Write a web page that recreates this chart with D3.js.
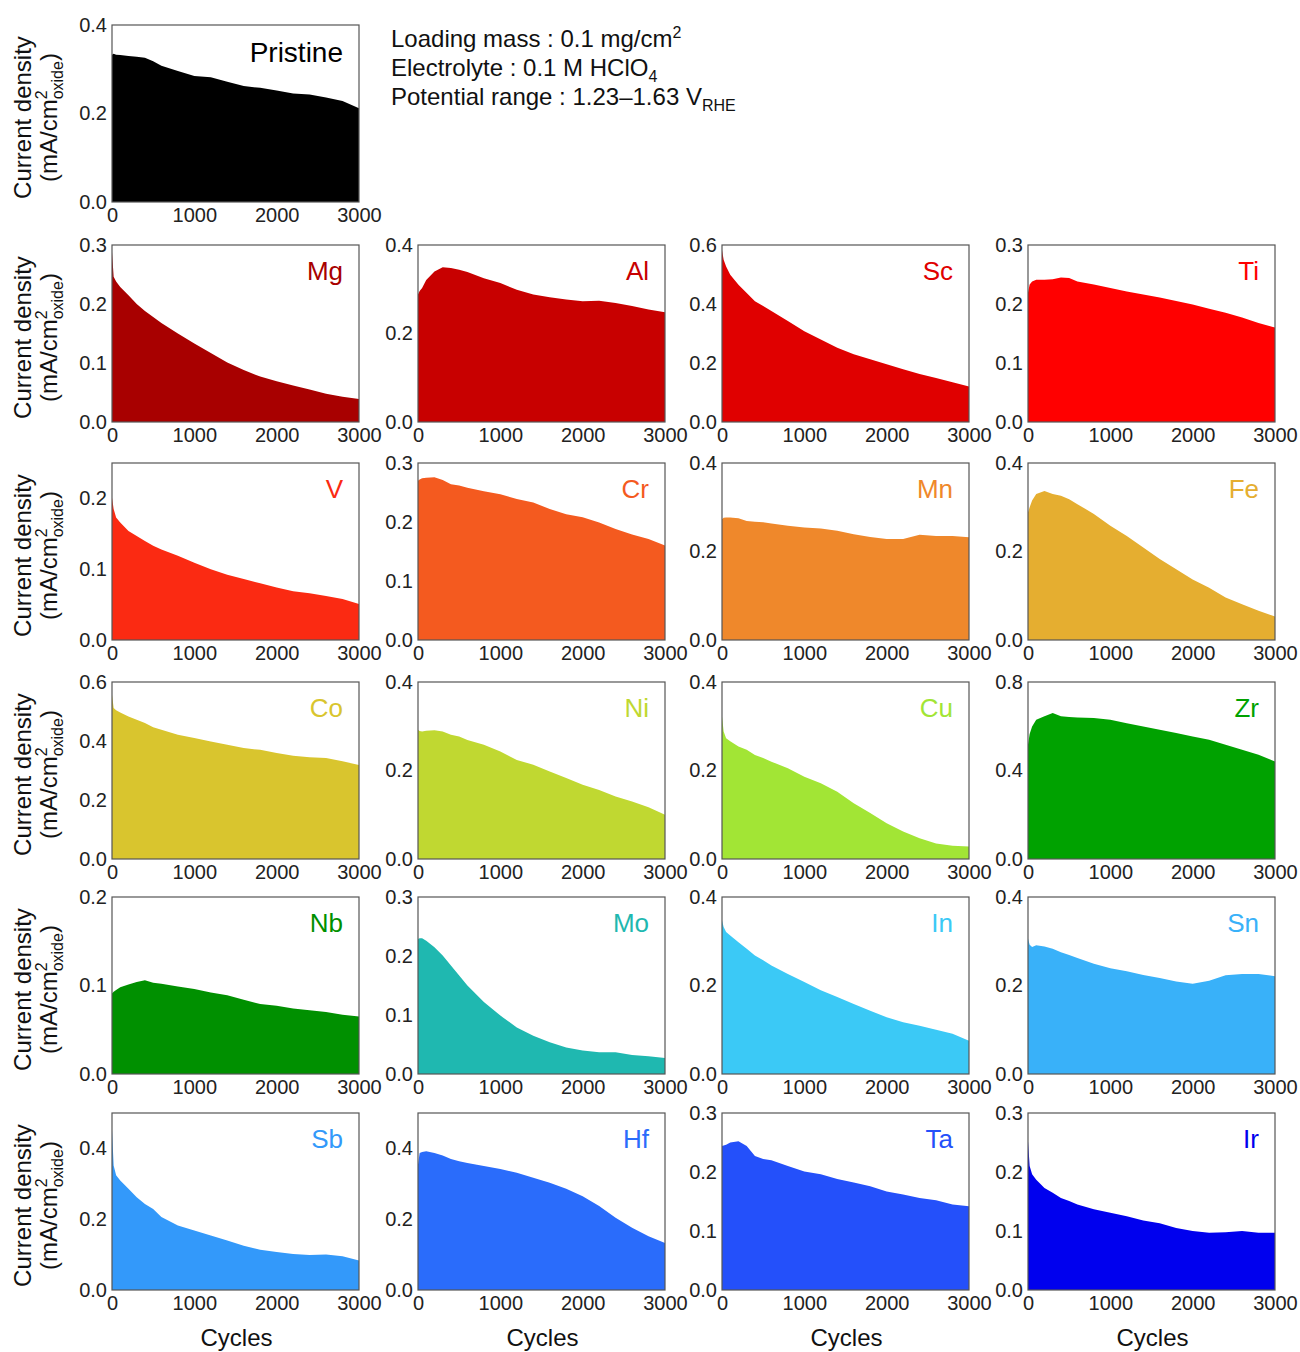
<!DOCTYPE html>
<html>
<head>
<meta charset="utf-8">
<script src="https://cdn.jsdelivr.net/npm/d3@7"></script>
<style>
	body { margin: 0; background: #fff; }
	svg { font-family: Arial, 'Liberation Sans', sans-serif; }
	.tick text { fill: #222; }
</style>
</head>
<body>
<svg id="chart" width="1300" height="1352"></svg>
<script>
'use strict';

var cycles = [0, 20, 50, 100, 200, 300, 400, 500, 600, 800, 1000, 1200, 1400, 1600, 1800, 2000, 2200, 2400, 2600, 2800, 3000];

var pristine = [.333, .335, .333, .332, .330, .328, .326, .318, .308, .296, .285, .282, .272, .262, .258, .252, .245, .243, .236, .228, .212];
var mg = [.288, .246, .238, .229, .215, .200, .188, .178, .168, .150, .133, .117, .101, .088, .077, .069, .062, .055, .048, .043, .039];
var al = [.288, .296, .303, .321, .340, .350, .348, .344, .339, .325, .314, .299, .288, .282, .277, .273, .274, .269, .262, .254, .248];
var sc = [.583, .550, .527, .499, .465, .437, .409, .393, .376, .342, .308, .280, .252, .230, .213, .196, .179, .163, .149, .135, .120];
var ti = [.219, .233, .238, .241, .241, .242, .245, .244, .238, .233, .227, .221, .216, .211, .205, .199, .192, .185, .177, .168, .160];
var v = [.201, .185, .173, .166, .154, .147, .140, .133, .128, .119, .109, .100, .092, .086, .080, .074, .069, .066, .062, .058, .051];
var cr = [.270, .272, .274, .275, .276, .271, .264, .262, .258, .252, .247, .239, .233, .222, .213, .208, .199, .188, .179, .171, .160];
var mn = [.273, .276, .277, .277, .275, .269, .267, .266, .263, .258, .254, .252, .247, .239, .233, .228, .228, .238, .235, .235, .232];
var fe = [.288, .300, .315, .330, .337, .330, .326, .318, .307, .285, .258, .235, .209, .183, .160, .137, .118, .096, .081, .066, .053];
var co = [.557, .512, .504, .497, .483, .472, .461, .447, .438, .421, .410, .398, .387, .376, .370, .359, .350, .345, .342, .331, .319];
var ni = [.292, .289, .288, .290, .291, .288, .281, .277, .269, .258, .243, .224, .213, .198, .183, .168, .156, .141, .130, .117, .100];
var cu = [.322, .288, .273, .266, .254, .247, .235, .228, .220, .205, .186, .171, .152, .126, .104, .081, .062, .047, .035, .030, .028];
var zr = [.516, .565, .599, .629, .645, .660, .645, .642, .640, .637, .629, .614, .599, .584, .569, .554, .539, .516, .494, .471, .441];
var nb = [.091, .093, .095, .098, .101, .104, .106, .103, .102, .099, .096, .092, .089, .084, .079, .077, .074, .072, .070, .067, .065];
var mo = [.229, .230, .230, .226, .215, .201, .184, .167, .150, .122, .099, .079, .065, .054, .045, .040, .037, .037, .032, .030, .027];
var inn = [.347, .332, .321, .313, .298, .283, .268, .257, .245, .226, .208, .189, .174, .158, .143, .128, .117, .109, .100, .091, .075];
var sn = [.306, .292, .287, .291, .288, .283, .275, .269, .262, .249, .239, .232, .224, .217, .209, .204, .211, .223, .226, .226, .221];
var sb = [.451, .352, .324, .309, .286, .262, .243, .229, .206, .182, .168, .154, .140, .125, .114, .107, .102, .099, .100, .095, .083];
var hf = [.354, .387, .390, .392, .387, .380, .370, .364, .359, .350, .342, .331, .317, .303, .286, .265, .237, .204, .176, .152, .133];
var ta = [.244, .245, .246, .250, .252, .244, .227, .222, .220, .210, .201, .196, .188, .182, .176, .167, .162, .156, .152, .145, .142];
var ir = [.252, .210, .196, .187, .173, .165, .156, .151, .145, .137, .131, .125, .118, .113, .105, .100, .097, .098, .100, .097, .097];

var labels = ['Pristine', 'Mg', 'Al', 'Sc', 'Ti', 'V', 'Cr', 'Mn', 'Fe', 'Co', 'Ni', 'Cu', 'Zr', 'Nb', 'Mo', 'In', 'Sn', 'Sb', 'Hf', 'Ta', 'Ir'];
var series = [pristine, mg, al, sc, ti, v, cr, mn, fe, co, ni, cu, zr, nb, mo, inn, sn, sb, hf, ta, ir];
var yMax = [0.4, 0.3, 0.4, 0.6, 0.3, 0.25, 0.3, 0.4, 0.4, 0.6, 0.4, 0.4, 0.8, 0.2, 0.3, 0.4, 0.4, 0.5, 0.5, 0.3, 0.3];
var yTicks = [
	[0, .2, .4], [0, .1, .2, .3], [0, .2, .4], [0, .2, .4, .6], [0, .1, .2, .3],
	[0, .1, .2], [0, .1, .2, .3], [0, .2, .4], [0, .2, .4],
	[0, .2, .4, .6], [0, .2, .4], [0, .2, .4], [0, .4, .8],
	[0, .1, .2], [0, .1, .2, .3], [0, .2, .4], [0, .2, .4],
	[0, .2, .4], [0, .2, .4], [0, .1, .2, .3], [0, .1, .2, .3]
];
var xTicks = [0, 1000, 2000, 3000];

var palette = ['#000000', '#a80000', '#c80000', '#e00000', '#ff0000', '#fb2a12', '#f45a1f', '#ef882b', '#e5ae30',
	'#d9c52e', '#c0d831', '#a2e535', '#00a200', '#009000', '#1fb8b0', '#3bc9f6', '#39b1f9', '#3399fa', '#2a6cfb', '#2450fa', '#0000ee'];

// layout
var colLeft = [112, 418, 722, 1028];
var rowTop = [25, 245, 463, 682, 897, 1113];
var panelW = 247, panelH = 177;

var svg = d3.select('#chart');

function drawPanel(i, left, top) {
	var g = svg.append('g').attr('transform', 'translate(' + left + ',' + top + ')');
	var x = d3.scaleLinear().domain([0, 3000]).range([0, panelW]);
	var y = d3.scaleLinear().domain([0, yMax[i]]).range([panelH, 0]);

	var pts = cycles.map(function (c, k) { return [c, series[i][k]]; });
	var area = d3.area()
		.x(function (d) { return x(d[0]); })
		.y0(y(0))
		.y1(function (d) { return y(d[1]); });

	g.append('path')
		.datum(pts)
		.attr('d', area)
		.attr('fill', palette[i]);

	g.append('rect')
		.attr('width', panelW)
		.attr('height', panelH)
		.attr('fill', 'none')
		.attr('stroke', '#555')
		.attr('stroke-width', 1.2);

	var yAxis = g.append('g')
		.call(d3.axisLeft(y).tickValues(yTicks[i]).tickSize(0).tickPadding(5).tickFormat(d3.format('.1f')));
	var xAxis = g.append('g')
		.attr('transform', 'translate(0,' + panelH + ')')
		.call(d3.axisBottom(x).tickValues(xTicks).tickSize(0).tickPadding(6).tickFormat(d3.format('d')));
	[yAxis, xAxis].forEach(function (a) {
		a.select('.domain').remove();
		a.selectAll('text').attr('font-size', 20).attr('font-family', 'Arial, Liberation Sans, sans-serif');
	});

	g.append('text')
		.attr('x', panelW - 16)
		.attr('y', i === 0 ? 37 : 35)
		.attr('text-anchor', 'end')
		.attr('font-size', i === 0 ? 28 : 26)
		.attr('fill', palette[i])
		.text(labels[i]);
}

function drawYTitle(top) {
	var cy = top + panelH / 2 + 4;
	var t = svg.append('text')
		.attr('transform', 'translate(31,' + cy + ') rotate(-90)')
		.attr('text-anchor', 'middle')
		.attr('font-size', 24)
		.attr('fill', '#111');
	t.append('tspan').attr('x', 0).attr('y', 0).text('Current density');
	var t2 = svg.append('text')
		.attr('transform', 'translate(57,' + cy + ') rotate(-90)')
		.attr('text-anchor', 'middle')
		.attr('font-size', 24)
		.attr('fill', '#111');
	t2.append('tspan').text('(mA/cm');
	t2.append('tspan').attr('font-size', 16).attr('dy', -10).text('2');
	t2.append('tspan').attr('font-size', 16).attr('dx', -9).attr('dy', 16).text('oxide');
	t2.append('tspan').attr('dy', -6).text(')');
}

// pristine on its own row
drawPanel(0, colLeft[0], rowTop[0]);
drawYTitle(rowTop[0]);

for (var r = 0; r < 5; r++) {
	drawYTitle(rowTop[r + 1]);
	for (var c = 0; c < 4; c++) {
		drawPanel(1 + r * 4 + c, colLeft[c], rowTop[r + 1]);
	}
}

// x titles
colLeft.forEach(function (l) {
	svg.append('text')
		.attr('x', l + panelW / 2 + 1)
		.attr('y', 1346)
		.attr('text-anchor', 'middle')
		.attr('font-size', 24)
		.attr('fill', '#111')
		.text('Cycles');
});

// measurement conditions
var note = svg.append('g').attr('font-size', 24).attr('fill', '#111');
var n1 = note.append('text').attr('x', 391).attr('y', 47);
n1.append('tspan').text('Loading mass : 0.1 mg/cm');
n1.append('tspan').attr('font-size', 16).attr('dy', -9).text('2');
var n2 = note.append('text').attr('x', 391).attr('y', 76);
n2.append('tspan').text('Electrolyte : 0.1 M HClO');
n2.append('tspan').attr('font-size', 16).attr('dy', 6).text('4');
var n3 = note.append('text').attr('x', 391).attr('y', 105);
n3.append('tspan').text('Potential range : 1.23\u20131.63 V');
n3.append('tspan').attr('font-size', 16).attr('dy', 6).text('RHE');
</script>
</body>
</html>
